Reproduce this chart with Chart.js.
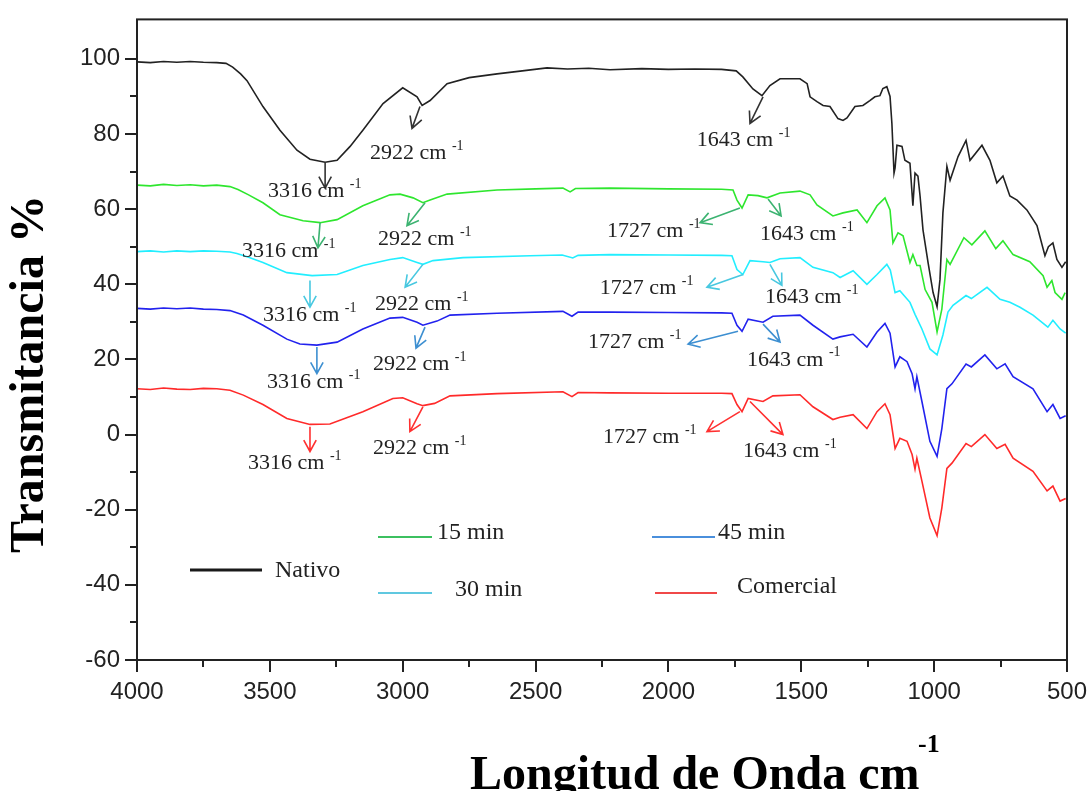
<!DOCTYPE html>
<html>
<head>
<meta charset="utf-8">
<title>FTIR - Transmitancia</title>
<script src="https://cdn.jsdelivr.net/npm/chart.js@4.4.1/dist/chart.umd.min.js"></script>
<style>
  html, body { margin: 0; padding: 0; background: #fff; }
</style>
</head>
<body>
<canvas id="chartFtir" width="1089" height="791"></canvas>
<script>
// ============================================
// Espectros FTIR — transmitancia vs longitud de onda
// ============================================

const xTicks = [500, 750, 1000, 1250, 1500, 1750, 2000, 2250, 2500, 2750, 3000, 3250, 3500, 3750, 4000];
const yTicks = [-60, -50, -40, -30, -20, -10, 0, 10, 20, 30, 40, 50, 60, 70, 80, 90, 100];

// Nativo
const nativoWn = [4000, 3950, 3900, 3850, 3800, 3750, 3700, 3665, 3640, 3610,
  3586, 3526, 3462, 3398, 3349, 3292, 3247, 3198, 3150, 3074,
  3000, 2946, 2927, 2897, 2833, 2750, 2645, 2550, 2457, 2380,
  2300, 2220, 2100, 2000, 1900, 1800, 1745, 1720, 1682, 1648,
  1618, 1580, 1505, 1478, 1467, 1441, 1418, 1392, 1362, 1343,
  1328, 1298, 1268, 1242, 1223, 1204, 1193, 1178, 1166, 1159,
  1151, 1147, 1140, 1121, 1110, 1091, 1080, 1072, 1061, 1053,
  1042, 1023, 1004, 989, 978, 967, 952, 940, 910, 880,
  865, 820, 790, 764, 741, 715, 688, 651, 613, 583,
  570, 553, 538, 519, 505];
const nativoT = [99.2, 99.0, 99.3, 99.1, 99.3, 99.1, 99.0, 98.8, 97.8, 96.0,
  94.2, 87.3, 81.0, 75.7, 73.3, 72.5, 73.0, 76.7, 81.0, 88.1,
  92.3, 89.9, 87.6, 88.9, 93.4, 95.0, 96.0, 96.8, 97.6, 97.3,
  97.5, 97.1, 97.4, 97.2, 97.3, 97.2, 96.8, 95.2, 92.0, 90.2,
  92.9, 94.7, 94.7, 93.4, 89.9, 88.6, 87.6, 87.3, 84.1, 83.6,
  84.3, 87.3, 87.6, 88.9, 89.9, 90.2, 92.1, 92.6, 90.0, 82.8,
  69.6, 71.0, 77.0, 76.7, 73.0, 72.2, 60.9, 69.6, 68.8, 63.5,
  54.5, 45.8, 37.8, 34.0, 41.3, 59.0, 71.4, 67.7, 74.0, 78.3,
  73.0, 77.0, 73.0, 67.0, 68.8, 63.5, 62.4, 59.8, 55.6, 47.6,
  50.0, 51.0, 46.6, 44.5, 46.0];

// 15 min
const min15Wn = [4000, 3950, 3900, 3850, 3800, 3750, 3700, 3650, 3620, 3580,
  3526, 3462, 3375, 3311, 3247, 3150, 3048, 3010, 2961, 2924,
  2897, 2833, 2645, 2500, 2397, 2370, 2350, 2220, 2000, 1800,
  1757, 1742, 1723, 1700, 1663, 1629, 1580, 1505, 1467, 1441,
  1381, 1343, 1290, 1253, 1215, 1185, 1166, 1155, 1136, 1117,
  1091, 1080, 1065, 1053, 1034, 1008, 989, 971, 952, 940,
  888, 858, 809, 768, 741, 703, 640, 590, 575, 557,
  545, 519, 507];
const min15T = [66.4, 66.2, 66.6, 66.3, 66.5, 66.2, 66.4, 66.0, 65.2, 63.8,
  61.7, 58.5, 56.9, 56.4, 57.2, 60.9, 63.8, 64.0, 63.0, 61.7,
  62.4, 64.0, 65.1, 65.4, 65.6, 64.6, 65.5, 65.6, 65.4, 65.3,
  65.1, 62.4, 60.3, 63.8, 63.6, 63.0, 64.3, 64.8, 63.8, 61.1,
  58.2, 59.0, 59.8, 56.4, 60.9, 63.0, 59.8, 51.0, 53.7, 52.9,
  45.8, 47.9, 45.0, 45.0, 38.6, 35.2, 27.3, 33.4, 46.6, 45.3,
  52.4, 50.5, 54.2, 49.5, 51.6, 47.9, 46.0, 42.3, 39.2, 41.0,
  37.8, 36.0, 37.8];

// 30 min
const min30Wn = [4000, 3950, 3900, 3850, 3800, 3750, 3700, 3650, 3624, 3580,
  3526, 3436, 3341, 3247, 3150, 3048, 3000, 2946, 2924, 2886,
  2773, 2521, 2400, 2360, 2340, 2220, 2000, 1800, 1761, 1742,
  1720, 1693, 1644, 1618, 1580, 1505, 1456, 1381, 1354, 1305,
  1253, 1215, 1178, 1165, 1147, 1129, 1091, 1072, 1046, 1016,
  989, 967, 948, 929, 880, 860, 801, 752, 715, 677,
  628, 572, 553, 526, 505];
const min30T = [48.7, 48.9, 48.6, 48.9, 48.7, 48.9, 48.8, 48.6, 48.2, 47.2,
  45.8, 43.1, 42.3, 42.6, 45.0, 46.6, 47.1, 45.8, 45.3, 46.3,
  47.1, 47.6, 47.8, 47.0, 47.7, 47.9, 47.8, 47.7, 47.6, 43.9,
  42.6, 46.3, 46.0, 45.8, 46.8, 47.1, 44.5, 43.1, 41.8, 43.6,
  40.0, 42.6, 45.3, 43.8, 37.8, 38.3, 35.2, 32.0, 28.1, 22.8,
  21.2, 26.5, 32.6, 34.4, 37.0, 36.2, 39.2, 36.0, 35.2, 33.9,
  31.8, 28.6, 30.4, 28.1, 27.0];

// 45 min
const min45Wn = [4000, 3950, 3900, 3850, 3800, 3750, 3700, 3650, 3600, 3526,
  3436, 3387, 3323, 3247, 3150, 3048, 3000, 2946, 2924, 2871,
  2822, 2645, 2397, 2363, 2340, 2220, 2000, 1800, 1761, 1742,
  1723, 1700, 1644, 1607, 1505, 1456, 1381, 1354, 1305, 1253,
  1215, 1185, 1166, 1147, 1129, 1102, 1083, 1072, 1065, 1046,
  1016, 989, 971, 952, 933, 880, 860, 809, 764, 733,
  703, 628, 575, 553, 526, 505];
const min45T = [33.6, 33.4, 33.7, 33.5, 33.7, 33.4, 33.3, 33.0, 31.8, 29.1,
  25.4, 24.1, 23.8, 24.6, 28.1, 31.0, 31.2, 29.9, 29.1, 30.2,
  31.8, 32.3, 32.8, 31.5, 32.6, 32.6, 32.5, 32.4, 32.3, 29.1,
  27.5, 30.7, 29.9, 31.5, 31.8, 29.1, 25.4, 26.0, 26.7, 23.3,
  27.3, 29.6, 27.0, 18.0, 20.7, 19.4, 16.2, 12.2, 15.4, 8.8,
  -1.8, -5.8, 1.6, 12.2, 13.5, 18.8, 18.0, 21.2, 17.5, 18.8,
  15.4, 12.2, 6.1, 8.0, 4.3, 5.0];

// Comercial
const comercialWn = [4000, 3950, 3900, 3850, 3800, 3750, 3700, 3650, 3600, 3526,
  3436, 3349, 3274, 3150, 3037, 3000, 2946, 2924, 2880, 2822,
  2645, 2397, 2363, 2340, 2220, 2000, 1800, 1761, 1742, 1723,
  1700, 1644, 1607, 1505, 1456, 1381, 1354, 1305, 1253, 1215,
  1185, 1166, 1147, 1129, 1102, 1083, 1072, 1065, 1046, 1016,
  989, 971, 952, 933, 880, 860, 809, 764, 733, 703,
  628, 575, 553, 526, 505];
const comercialT = [12.2, 12.0, 12.4, 12.1, 12.0, 12.3, 12.2, 11.8, 10.5, 8.0,
  4.3, 2.7, 2.8, 6.1, 9.6, 9.8, 8.2, 7.7, 8.3, 10.3,
  10.9, 11.4, 10.1, 11.2, 11.1, 11.0, 11.0, 10.9, 8.0, 6.1,
  9.6, 8.8, 10.3, 10.6, 7.4, 4.0, 4.6, 5.3, 1.6, 6.1,
  8.2, 5.3, -3.7, -1.0, -1.8, -5.3, -9.2, -6.3, -12.4, -22.2,
  -26.9, -19.5, -9.0, -7.6, -2.4, -3.2, 0.0, -3.7, -2.6, -6.3,
  -9.8, -15.0, -13.7, -17.7, -17.0];

// bandas señaladas: texto, inicio y punta de flecha, posición del texto (en datos)
const notes = [
  { c: '#333333', t: '3316', from: [3292, 72.5], to: [3292, 65.6], at: [3507, 64.8] },
  { c: '#333333', t: '2922', from: [2935, 87.3], to: [2965, 81.5], at: [3123, 74.9] },
  { c: '#333333', t: '1643', from: [1644, 89.9], to: [1693, 82.8], at: [1893, 78.3] },
  { c: '#3cb371', t: '3316', from: [3311, 56.4], to: [3319, 49.7], at: [3605, 48.7] },
  { c: '#3cb371', t: '2922', from: [2916, 61.7], to: [2984, 55.6], at: [3093, 51.9] },
  { c: '#3cb371', t: '1727', from: [1731, 60.3], to: [1881, 56.4], at: [2231, 54.2] },
  { c: '#3cb371', t: '1643', from: [1625, 62.7], to: [1576, 58.2], at: [1655, 53.2] },
  { c: '#48c8e0', t: '3316', from: [3349, 41.0], to: [3349, 33.9], at: [3526, 31.8] },
  { c: '#48c8e0', t: '2922', from: [2924, 45.3], to: [2991, 39.2], at: [3104, 34.7] },
  { c: '#48c8e0', t: '1727', from: [1719, 42.6], to: [1855, 39.2], at: [2258, 38.9] },
  { c: '#48c8e0', t: '1643', from: [1618, 45.3], to: [1573, 39.7], at: [1637, 36.5] },
  { c: '#3d8fd1', t: '3316', from: [3323, 23.3], to: [3323, 16.2], at: [3511, 14.0] },
  { c: '#3d8fd1', t: '2922', from: [2916, 28.6], to: [2950, 23.0], at: [3112, 18.8] },
  { c: '#3d8fd1', t: '1727', from: [1738, 27.5], to: [1926, 24.1], at: [2303, 24.6] },
  { c: '#3d8fd1', t: '1643', from: [1644, 29.4], to: [1580, 24.6], at: [1704, 19.9] },
  { c: '#ff3030', t: '3316', from: [3349, 2.1], to: [3349, -4.5], at: [3582, -7.6] },
  { c: '#ff3030', t: '2922', from: [2924, 7.4], to: [2973, 0.8], at: [3112, -3.7] },
  { c: '#ff3030', t: '1727', from: [1731, 6.1], to: [1855, 0.8], at: [2246, -0.8] },
  { c: '#ff3030', t: '1643', from: [1693, 8.8], to: [1569, 0.0], at: [1719, -4.5] },
];

// leyenda dibujada dentro del área (px)
const legendItems = [
  { label: 'Nativo', color: '#1a1a1a', x1: 190, x2: 262, y: 570, tx: 275, ty: 571, w: 3 },
  { label: '15 min', color: '#3cc060', x1: 378, x2: 432, y: 537, tx: 437, ty: 533, w: 2 },
  { label: '30 min', color: '#60c8e0', x1: 378, x2: 432, y: 593, tx: 455, ty: 590, w: 2 },
  { label: '45 min', color: '#4a8fdc', x1: 652, x2: 715, y: 537, tx: 718, ty: 533, w: 2 },
  { label: 'Comercial', color: '#f04848', x1: 655, x2: 717, y: 593, tx: 737, ty: 587, w: 2 },
];

const toPoints = (wn, t) => wn.map((w, i) => ({ x: w, y: t[i] }));

function drawArrow(ctx, x1, y1, x2, y2, color) {
  const ang = Math.atan2(y2 - y1, x2 - x1);
  const h = 13;
  ctx.strokeStyle = color;
  ctx.lineWidth = 1.6;
  ctx.beginPath();
  ctx.moveTo(x1, y1);
  ctx.lineTo(x2, y2);
  ctx.moveTo(x2 - h * Math.cos(ang - 0.5), y2 - h * Math.sin(ang - 0.5));
  ctx.lineTo(x2, y2);
  ctx.lineTo(x2 - h * Math.cos(ang + 0.5), y2 - h * Math.sin(ang + 0.5));
  ctx.stroke();
}

const decorPlugin = {
  id: 'decor',
  afterDatasetsDraw(chart) {
    const { ctx, chartArea: a, scales: { x, y } } = chart;
    ctx.save();

    // marco
    ctx.strokeStyle = '#222';
    ctx.lineWidth = 2;
    ctx.strokeRect(a.left, a.top, a.right - a.left, a.bottom - a.top);

    // marcas de los ejes
    ctx.lineWidth = 2;
    ctx.beginPath();
    xTicks.forEach((v) => {
      const px = Math.round(x.getPixelForValue(v));
      const len = v % 500 === 0 ? 12 : 7;
      ctx.moveTo(px, a.bottom);
      ctx.lineTo(px, a.bottom + len);
    });
    yTicks.forEach((v) => {
      const py = Math.round(y.getPixelForValue(v));
      const len = v % 20 === 0 ? 12 : 7;
      ctx.moveTo(a.left, py);
      ctx.lineTo(a.left - len, py);
    });
    ctx.stroke();

    // flechas y etiquetas de bandas
    notes.forEach((n) => {
      drawArrow(ctx,
        x.getPixelForValue(n.from[0]), y.getPixelForValue(n.from[1]),
        x.getPixelForValue(n.to[0]), y.getPixelForValue(n.to[1]), n.c);
      const tx = x.getPixelForValue(n.at[0]);
      const ty = y.getPixelForValue(n.at[1]);
      ctx.fillStyle = '#222';
      ctx.textBaseline = 'middle';
      ctx.textAlign = 'left';
      ctx.font = '22px "Liberation Serif", "Times New Roman", serif';
      const main = n.t + ' cm ';
      ctx.fillText(main, tx, ty);
      const wMain = ctx.measureText(main).width;
      ctx.font = '14px "Liberation Serif", "Times New Roman", serif';
      ctx.fillText('-1', tx + wMain, ty - 7);
    });

    // leyenda
    legendItems.forEach((it) => {
      ctx.strokeStyle = it.color;
      ctx.lineWidth = it.w;
      ctx.beginPath();
      ctx.moveTo(it.x1, it.y);
      ctx.lineTo(it.x2, it.y);
      ctx.stroke();
      ctx.fillStyle = '#222';
      ctx.font = '24px "Liberation Serif", "Times New Roman", serif';
      ctx.textBaseline = 'middle';
      ctx.fillText(it.label, it.tx, it.ty);
    });

    // títulos de ejes
    ctx.fillStyle = '#000';
    ctx.font = 'bold 48px "Liberation Serif", "Times New Roman", serif';
    ctx.textAlign = 'left';
    ctx.textBaseline = 'alphabetic';
    ctx.fillText('Longitud de Onda cm', 470, 789);
    ctx.font = 'bold 26px "Liberation Serif", "Times New Roman", serif';
    ctx.fillText('-1', 918, 752);

    ctx.translate(31, 374);
    ctx.rotate(-Math.PI / 2);
    ctx.font = 'bold 48px "Liberation Serif", "Times New Roman", serif';
    ctx.textAlign = 'center';
    ctx.textBaseline = 'middle';
    ctx.fillText('Transmitancia %', 0, 0);

    ctx.restore();
  },
};

const tickFont = { family: '"Liberation Sans", Arial, sans-serif', size: 24 };

new Chart(document.getElementById('chartFtir'), {
  type: 'scatter',
  data: {
    datasets: [
      { label: 'Nativo', data: toPoints(nativoWn, nativoT), borderColor: '#222222' },
      { label: '15 min', data: toPoints(min15Wn, min15T), borderColor: '#2ee62e' },
      { label: '30 min', data: toPoints(min30Wn, min30T), borderColor: '#22eeff' },
      { label: '45 min', data: toPoints(min45Wn, min45T), borderColor: '#2222ee' },
      { label: 'Comercial', data: toPoints(comercialWn, comercialT), borderColor: '#ff2a2a' },
    ],
  },
  options: {
    responsive: false,
    animation: false,
    showLine: true,
    layout: { padding: { top: 15, right: 22, left: 0, bottom: 0 } },
    elements: {
      point: { radius: 0, hoverRadius: 0 },
      line: { tension: 0, borderWidth: 1.6, fill: false },
    },
    plugins: { legend: { display: false }, tooltip: { enabled: false } },
    scales: {
      x: {
        type: 'linear',
        reverse: true,
        min: 500,
        max: 4000,
        afterBuildTicks: (s) => { s.ticks = xTicks.map((v) => ({ value: v })); },
        afterFit: (s) => { s.height = 131; },
        ticks: {
          autoSkip: false,
          maxRotation: 0,
          padding: 6,
          color: '#222',
          font: tickFont,
          callback: (v) => (v % 500 === 0 ? v : ''),
        },
        grid: { drawOnChartArea: false, tickLength: 12, color: 'rgba(0,0,0,0)' },
        border: { display: false },
      },
      y: {
        type: 'linear',
        min: -60,
        max: 110.5,
        afterBuildTicks: (s) => { s.ticks = yTicks.map((v) => ({ value: v })); },
        afterFit: (s) => { s.width = 137; },
        ticks: {
          autoSkip: false,
          padding: 5,
          color: '#222',
          font: tickFont,
          callback: (v) => (v % 20 === 0 ? v : ''),
        },
        grid: { drawOnChartArea: false, tickLength: 12, color: 'rgba(0,0,0,0)' },
        border: { display: false },
      },
    },
  },
  plugins: [decorPlugin],
});
</script>
</body>
</html>
